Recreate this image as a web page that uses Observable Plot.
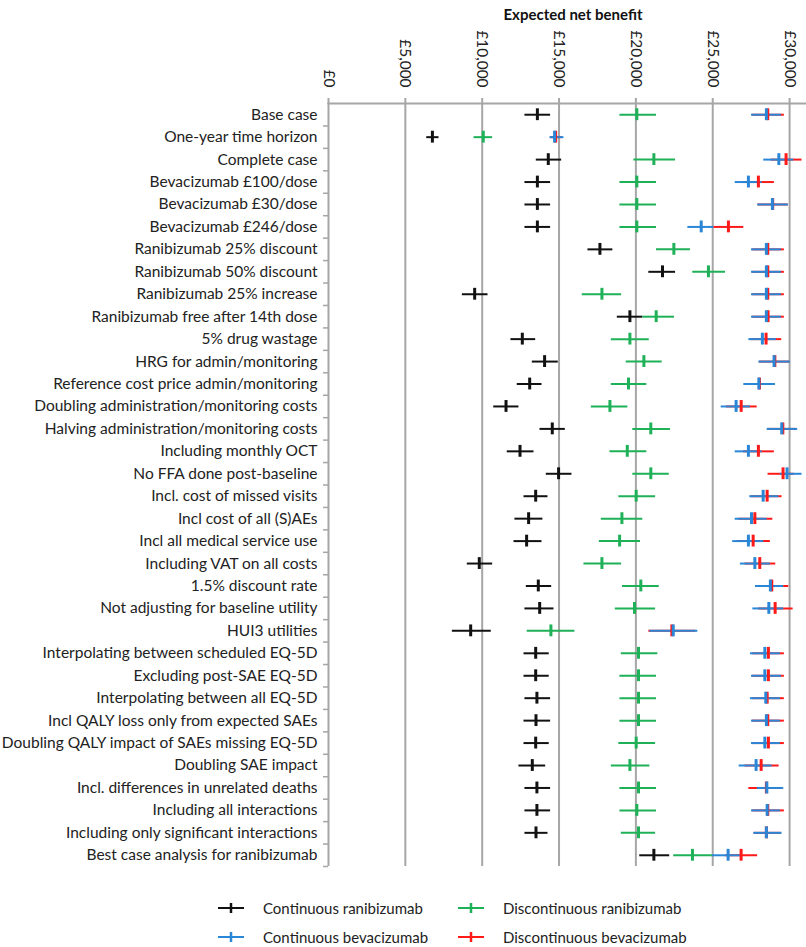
<!DOCTYPE html>
<html>
<head>
<meta charset="utf-8">
<script src="https://cdn.jsdelivr.net/npm/d3@7"></script>
<script src="https://cdn.jsdelivr.net/npm/@observablehq/plot@0.6"></script>
<style>
  html, body { margin: 0; padding: 0; background: #fff; }
  #wrap { position: relative; width: 806px; height: 947px; font-family: Lato, "Open Sans", sans-serif; }
  #title { position: absolute; left: 0; top: 5px; width: 1146px; text-align: center; font-weight: bold; font-size: 15px; color: #111; }
  .leg { position: absolute; font-size: 15px; color: #222; white-space: nowrap; }
  .leg svg { position: absolute; left: 0; top: 0; }
</style>
</head>
<body>
<div id="wrap">
  <div id="chart"></div>
  <div id="title">Expected net benefit</div>
  <div id="legend"></div>
</div>
<script>
const scenarios = [
  "Base case", "One-year time horizon", "Complete case", "Bevacizumab £100/dose",
  "Bevacizumab £30/dose", "Bevacizumab £246/dose", "Ranibizumab 25% discount",
  "Ranibizumab 50% discount", "Ranibizumab 25% increase", "Ranibizumab free after 14th dose",
  "5% drug wastage", "HRG for admin/monitoring", "Reference cost price admin/monitoring",
  "Doubling administration/monitoring costs", "Halving administration/monitoring costs",
  "Including monthly OCT", "No FFA done post-baseline", "Incl. cost of missed visits",
  "Incl cost of all (S)AEs", "Incl all medical service use", "Including VAT on all costs",
  "1.5% discount rate", "Not adjusting for baseline utility", "HUI3 utilities",
  "Interpolating between scheduled EQ-5D", "Excluding post-SAE EQ-5D",
  "Interpolating between all EQ-5D", "Incl QALY loss only from expected SAEs",
  "Doubling QALY impact of SAEs missing EQ-5D", "Doubling SAE impact",
  "Incl. differences in unrelated deaths", "Including all interactions",
  "Including only significant interactions", "Best case analysis for ranibizumab"
];

const seriesNames = ["Continuous ranibizumab", "Discontinuous ranibizumab", "Continuous bevacizumab", "Discontinuous bevacizumab"];
const seriesColors = ["#111111", "#1fb157", "#2a86d6", "#ff1a1a"];

// Continuous ranibizumab
const crMean = [13590, 6760, 14300, 13590, 13590, 13590, 17660, 21730, 9510, 19610, 12610, 14060, 13090, 11550, 14560, 12460, 14970, 13480, 13020, 12890, 9810, 13650, 13740, 9250, 13480, 13480, 13560, 13500, 13480, 13260, 13560, 13560, 13500, 21170];
const crLo   = [12780, 6390, 13520, 12780, 12780, 12780, 16880, 20840, 8710, 18790, 11870, 13260, 12280, 10750, 13760, 11630, 14170, 12720, 12130, 12070, 9030, 12870, 12780, 8060, 12720, 12720, 12780, 12720, 12720, 12390, 12780, 12780, 12780, 20250];
const crHi   = [14450, 7190, 15170, 14450, 14450, 14450, 18500, 22580, 10380, 20450, 13480, 14950, 13890, 12390, 15410, 13370, 15840, 14280, 13950, 13890, 10680, 14520, 14670, 10590, 14360, 14360, 14450, 14450, 14360, 14130, 14450, 14450, 14280, 22200];
// Discontinuous ranibizumab
const drMean = [20060, 10070, 21170, 20060, 20060, 20060, 22470, 24720, 17790, 21320, 19610, 20520, 19520, 18310, 20970, 19440, 20970, 20020, 19090, 18940, 17790, 20320, 19910, 14470, 20170, 20170, 20170, 20170, 20020, 19610, 20170, 20060, 20170, 23680];
const drLo   = [18960, 9470, 19870, 18960, 18960, 18960, 21340, 23700, 16510, 20450, 18400, 19370, 18400, 17100, 19800, 18310, 19800, 18890, 17750, 17620, 16620, 19130, 18660, 12930, 19050, 18960, 18960, 18960, 18890, 18400, 18960, 18960, 19050, 22460];
const drHi   = [21340, 10680, 22580, 21340, 21340, 21340, 23550, 25830, 19070, 22510, 20870, 21710, 20710, 19480, 22250, 20710, 22170, 21280, 20450, 20300, 19070, 21520, 21280, 16030, 21430, 21340, 21340, 21340, 21280, 20910, 21340, 21340, 21280, 24980];
// Continuous bevacizumab
const cbMean = [28490, 14710, 29300, 27320, 28880, 24250, 28490, 28490, 28490, 28490, 28230, 28990, 28000, 26520, 29490, 27320, 29835, 28280, 27520, 27320, 27740, 28750, 28650, 22430, 28390, 28390, 28450, 28490, 28390, 27820, 28520, 28540, 28490, 26000];
const cbLo   = [27520, 14410, 28320, 26460, 27930, 23380, 27520, 27520, 27520, 27520, 27350, 28000, 27020, 25550, 28540, 26460, 29400, 27410, 26460, 26300, 26800, 27780, 27610, 20910, 27450, 27520, 27450, 27520, 27520, 26720, 27900, 27520, 27670, 24980];
const cbHi   = [29470, 15320, 30270, 28210, 29930, 25070, 29470, 29470, 29470, 29470, 29140, 30050, 29080, 27450, 30530, 28210, 30810, 29300, 28540, 28320, 28750, 29620, 29620, 24030, 29400, 29470, 29400, 29400, 29400, 28860, 29620, 29400, 29510, 26800];
// Discontinuous bevacizumab
const dbMean = [28580, 14780, 29770, 27970, 28900, 26020, 28580, 28580, 28580, 28600, 28470, 29040, 28040, 26850, 29560, 27970, 29575, 28540, 27740, 27630, 28060, 28840, 29060, 22340, 28620, 28620, 28540, 28580, 28620, 28150, 28490, 28580, 28490, 26845];
const dbLo   = [27600, 14450, 28800, 27000, 27950, 25070, 27600, 27600, 27600, 27600, 27500, 28050, 27100, 25900, 28600, 27000, 28600, 27500, 26700, 26600, 27100, 27850, 28000, 20840, 27600, 27600, 27600, 27600, 27600, 27100, 27350, 27600, 27700, 25830];
const dbHi   = [29660, 15210, 30810, 29010, 29900, 27020, 29660, 29660, 29660, 29660, 29490, 30000, 28950, 27890, 30450, 29010, 30300, 29510, 28910, 28750, 29100, 29950, 30230, 23900, 29660, 29660, 29660, 29660, 29660, 29320, 29500, 29660, 29450, 27920];

const xTicks = [0, 5000, 10000, 15000, 20000, 25000, 30000];
const xTickLabels = ["£0", "£5,000", "£10,000", "£15,000", "£20,000", "£25,000", "£30,000"];

function rows(mean, lo, hi, s) {
  return scenarios.map((sc, i) => ({scenario: sc, mean: mean[i], lo: lo[i], hi: hi[i], series: s}));
}
// drawing order: black, green, red, blue (blue on top)
const data = [
  ...rows(crMean, crLo, crHi, seriesNames[0]),
  ...rows(drMean, drLo, drHi, seriesNames[1]),
  ...rows(dbMean, dbLo, dbHi, seriesNames[3]),
  ...rows(cbMean, cbLo, cbHi, seriesNames[2])
];

const grid = "#a6a6a6";
const bandH = (866 - 103) / scenarios.length;

const chart = Plot.plot({
  width: 806,
  height: 880,
  marginTop: 103,
  marginBottom: 14,
  marginLeft: 328,
  marginRight: 0,
  style: {fontFamily: "Lato, 'Open Sans', sans-serif", color: "#222", background: "#fff"},
  x: {domain: [0, 31100]},
  y: {domain: scenarios, padding: 0, round: false, label: null},
  color: {domain: seriesNames, range: seriesColors},
  marks: [
    Plot.ruleX(xTicks, {stroke: grid, strokeWidth: 2}),
    Plot.frame({anchor: "top", stroke: grid, strokeWidth: 2}),
    Plot.axisX({
      anchor: "top", ticks: xTicks, tickFormat: (d) => xTickLabels[xTicks.indexOf(d)],
      tickSize: 6, tickPadding: 10, tickRotate: 90, textAnchor: "end", lineAnchor: "middle",
      stroke: grid, strokeWidth: 2, fontSize: 15.4, label: null, color: "#222"
    }),
    Plot.ruleY(scenarios, {y: d => d, x1: -5 * 65, x2: 0, dy: bandH / 2, stroke: grid, strokeWidth: 1.5}),
    Plot.axisY({anchor: "left", tickSize: 0, tickPadding: 11, fontSize: 15.5, label: null, color: "#222"}),
    Plot.ruleY(data, {y: "scenario", x1: "lo", x2: "hi", stroke: "series", strokeWidth: 2}),
    Plot.tickX(data, {x: "mean", y: "scenario", stroke: "series", strokeWidth: 3, insetTop: 5.3, insetBottom: 5.3})
  ]
});
document.getElementById("chart").appendChild(chart);

// legend
const legendPos = [
  {name: seriesNames[0], color: seriesColors[0], x: 218, y: 908},
  {name: seriesNames[1], color: seriesColors[1], x: 458, y: 908},
  {name: seriesNames[2], color: seriesColors[2], x: 218, y: 937},
  {name: seriesNames[3], color: seriesColors[3], x: 458, y: 937}
];
const leg = document.getElementById("legend");
for (const it of legendPos) {
  const d = document.createElement("div");
  d.className = "leg";
  d.style.left = it.x + "px";
  d.style.top = (it.y - 10) + "px";
  d.style.height = "20px";
  d.style.paddingLeft = "45px";
  d.style.lineHeight = "20px";
  d.innerHTML = `<svg width="26" height="20"><line x1="0" x2="26" y1="10" y2="10" stroke="${it.color}" stroke-width="2"/><line x1="13" x2="13" y1="5" y2="15" stroke="${it.color}" stroke-width="2.5"/></svg>`;
  d.appendChild(document.createTextNode(it.name));
  leg.appendChild(d);
}
</script>
</body>
</html>
